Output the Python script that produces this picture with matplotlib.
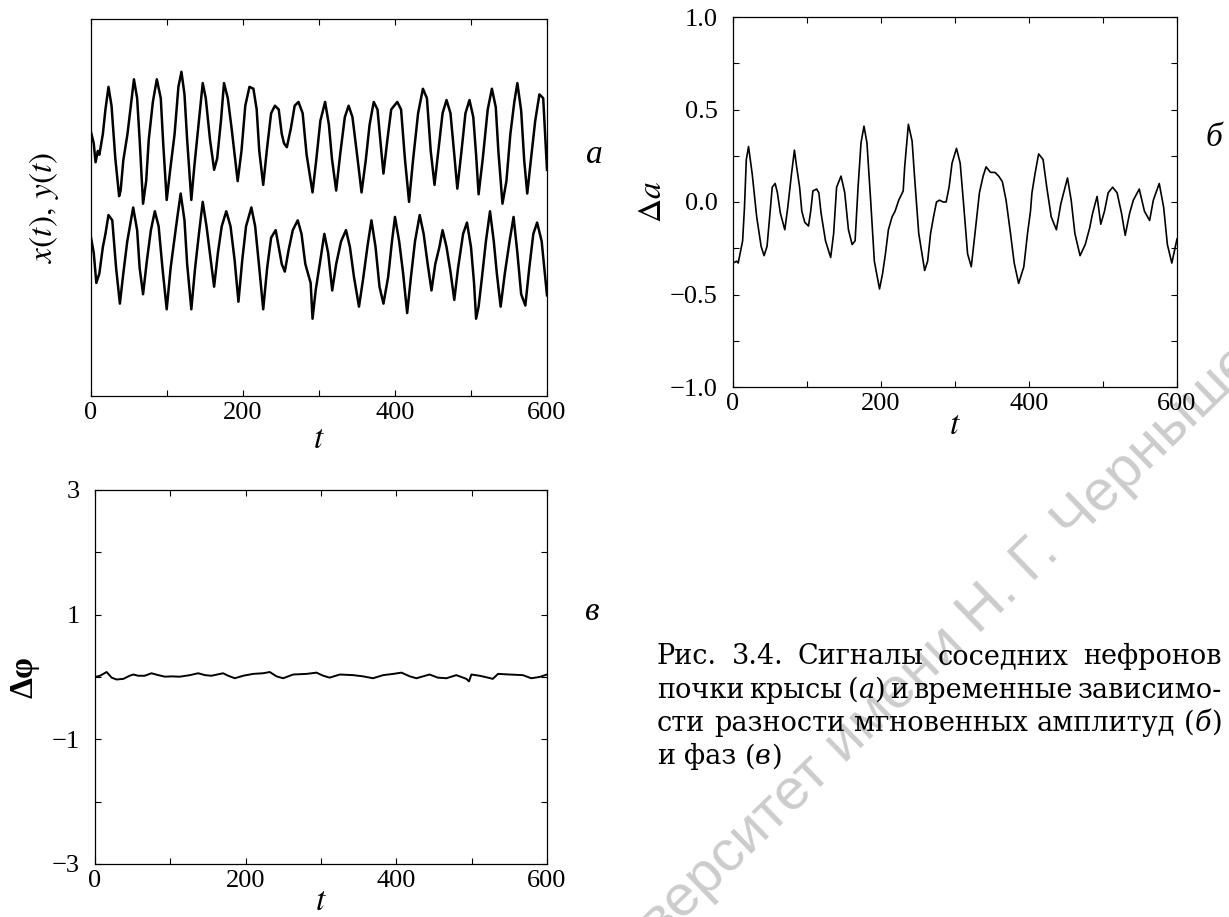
import math

import matplotlib
matplotlib.use("Agg")
import matplotlib.pyplot as plt

W, H = 1229, 917

plt.rcParams["font.family"] = ["Liberation Serif", "DejaVu Serif"]
plt.rcParams["mathtext.fontset"] = "stix"

# signals of two neighbouring nephrons (arbitrary units, 0..100 of the frame)
t_x = [0, 3.6, 6, 9, 11, 15.6, 19, 23, 27, 32,
       37, 39, 42.5, 48, 53, 56.5, 60.7, 64, 68.5, 72.6,
       76, 81.4, 86.6, 91.8, 95, 99.6, 104.8, 110, 115, 119,
       123, 126.5, 132, 136, 141, 147, 151, 156.6, 162, 166,
       171, 175, 180, 185, 189, 193, 198, 203, 208.5, 213.7,
       218, 221.4, 226.6, 231.8, 237, 242, 247, 251, 254, 257.7,
       263, 268, 273, 278.5, 283.7, 291.5, 296.6, 301.8, 308, 313,
       317, 322.6, 327.8, 334, 339, 344, 349.5, 356, 361.5, 366.6,
       372, 377, 380.6, 384.8, 390, 395, 403, 408, 413, 418.5,
       423.7, 430.4, 436.7, 442, 447, 452, 457, 462.6, 467.8, 473,
       478, 482, 487.5, 492.7, 498, 503, 506.7, 510, 515.5, 522,
       527.5, 532.6, 536, 541.4, 546.6, 551.8, 557, 561, 566, 570,
       574, 579, 584.5, 590, 595, 600]
x_sig = [70, 67, 62, 65, 64, 69.5, 76, 82, 77, 63,
         53, 54.5, 62.5, 69.5, 78, 84, 79, 68, 51, 57,
         68, 78, 84, 79, 67, 52, 61, 69.5, 82, 86,
         80, 68, 52, 61, 71, 83, 79, 68, 60, 63,
         73, 83, 79, 71, 64, 57, 65, 77, 82, 81.5,
         76, 65, 56, 66, 75, 77, 76, 69.5, 67, 66,
         71, 77, 78, 75, 64, 54, 63, 73, 78, 72,
         63, 54.5, 64, 74, 77, 74, 65, 54, 62.5, 72,
         78, 76, 68, 59, 68, 76, 78, 76, 63, 51.5,
         62.5, 75, 81.5, 79, 65, 56, 65, 75, 78.5, 75,
         64, 55, 65, 75, 78.5, 74, 64, 53.5, 63, 76,
         81.5, 76.6, 65, 51, 57, 69.5, 78, 83, 75.7, 62.5,
         53.7, 63, 73, 80, 79, 60]

t_y = [0, 3.6, 7, 11, 15.6, 19, 23, 28, 33, 38,
       42.5, 47.7, 55.5, 60.7, 64, 68.5, 73.6, 78.8, 84, 89,
       94, 99.6, 104.8, 110, 114, 118, 123, 126.5, 132, 137,
       142, 147, 152, 157.6, 162, 167, 172, 178, 183.6, 189,
       194, 199, 204, 211, 216, 221.4, 226.6, 231.8, 237, 243,
       247, 251, 255, 260, 265.5, 272, 277, 282, 289, 291.5,
       295.6, 301, 307, 312, 317.4, 322.6, 329, 335.5, 340.7, 346,
       352.6, 357.8, 364, 369, 374.4, 379.6, 384.8, 391, 396, 400,
       405.5, 410.7, 416, 421, 426.3, 432.5, 437.7, 443, 448, 453,
       458.4, 462.6, 467.8, 473, 478, 483, 489.6, 494.7, 500, 504,
       506.7, 510, 514.5, 519.6, 525, 530, 534, 539, 544.5, 550.7,
       556, 561, 566, 571.5, 576.7, 582, 587, 593, 600]
y_sig = [42, 38, 30, 32.5, 39.5, 43, 48, 46.6, 34, 24.5,
         32.5, 41, 50, 44, 34, 27, 36, 44, 49, 45,
         34, 23, 34, 42, 48, 53.7, 46.6, 35, 23, 34,
         43, 51.5, 45, 36, 29, 38, 45, 49, 45, 36,
         25, 36, 45, 50, 45, 34, 23, 34, 42, 44,
         39.5, 35, 33, 38.7, 44, 46.6, 43, 35, 30, 20.5,
         28, 35, 43, 38, 28, 35, 41, 44, 39.5, 31.6,
         23.7, 30.7, 40, 46.6, 39.5, 29, 24.5, 31.6, 41, 47.5,
         41, 32.5, 22, 31.6, 41, 48, 43, 35, 28, 35,
         39.5, 44, 39.5, 33, 25.5, 34, 43, 46, 39.5, 30,
         20.5, 23.7, 31.6, 41, 49, 41, 32.5, 23.7, 32.5, 41,
         47.5, 38, 27, 24, 34, 43, 46, 41, 26.7]

# difference of instantaneous amplitudes
t_da = [0, 5, 7, 13, 15.5, 18, 21, 26, 32, 38,
        42, 46, 50, 53, 57, 60, 64, 70, 74, 79,
        83, 86, 90, 93, 97, 102, 105, 108, 113, 116,
        119, 125, 132, 136, 140, 146, 151, 156, 161, 165,
        169, 173, 177, 181, 186, 191, 198, 202, 206, 210,
        215, 219, 224, 230, 232, 237, 242, 246, 251, 259,
        263, 267, 271, 275, 279, 284, 288, 292, 296, 302,
        307, 312, 317, 322, 327, 333, 338, 342, 348, 354,
        359, 364, 369, 375, 380, 386, 393, 398, 402, 404,
        408, 413, 419, 424, 430, 437, 443, 452, 457, 462,
        469, 476, 482, 486, 492, 497, 502, 507, 513, 519,
        525, 530, 536, 541, 549, 556, 563, 568, 576, 582,
        587, 593, 600]
da = [-0.33, -0.32, -0.33, -0.21, -0.03, 0.23, 0.30, 0.15, -0.08, -0.24,
      -0.29, -0.24, -0.06, 0.08, 0.10, 0.05, -0.06, -0.15, -0.03, 0.15,
      0.28, 0.19, 0.08, -0.05, -0.11, -0.13, -0.05, 0.06, 0.07, 0.05,
      -0.06, -0.21, -0.30, -0.17, 0.08, 0.14, 0.05, -0.15, -0.23, -0.21,
      0.08, 0.32, 0.41, 0.32, 0.01, -0.32, -0.47, -0.39, -0.28, -0.15,
      -0.08, -0.05, 0.01, 0.06, 0.19, 0.42, 0.33, 0.10, -0.17, -0.37,
      -0.32, -0.17, -0.08, 0.0, 0.01, 0.0, 0.0, 0.08, 0.21, 0.29,
      0.21, -0.03, -0.28, -0.35, -0.17, 0.05, 0.14, 0.19, 0.16, 0.16,
      0.14, 0.11, 0.01, -0.17, -0.33, -0.44, -0.35, -0.17, -0.05, 0.05,
      0.15, 0.26, 0.23, 0.08, -0.08, -0.15, -0.01, 0.13, 0.01, -0.17,
      -0.29, -0.23, -0.14, -0.06, 0.03, -0.12, -0.05, 0.05, 0.08, 0.05,
      -0.06, -0.18, -0.06, 0.01, 0.07, -0.05, -0.10, 0.01, 0.10, -0.03,
      -0.23, -0.33, -0.20]

# difference of instantaneous phases
t_dphi = [0, 6.6, 15.5, 22, 28.6, 37.6, 46, 50.8, 57.4, 66,
          75, 84, 93, 101.6, 112.7, 126, 137, 146, 154.6, 170,
          176.8, 185.6, 196.6, 210, 223, 232, 241, 249.7, 263, 281,
          294, 303, 311.6, 325, 342.6, 356, 369, 382.6, 396, 406.8,
          418, 426.7, 444, 455, 466.5, 479.6, 493, 496.5, 499.6, 510.6,
          521.6, 528, 535, 550, 568, 579, 590, 600]
dphi = [0.0, 0.02, 0.08, -0.01, -0.04, -0.03, 0.02, 0.04, 0.02, 0.02,
        0.06, 0.03, 0.005, 0.01, 0.005, 0.03, 0.06, 0.03, 0.02, 0.06,
        0.02, -0.02, 0.02, 0.05, 0.06, 0.08, 0.01, -0.02, 0.04, 0.05,
        0.07, 0.02, -0.01, 0.04, 0.03, 0.01, -0.02, 0.03, 0.05, 0.07,
        0.01, -0.02, 0.04, -0.01, -0.02, 0.03, -0.03, -0.07, 0.04, 0.02,
        -0.01, -0.03, 0.05, 0.04, 0.03, -0.02, 0.0, 0.04]

t_major = [0, 200, 400, 600]
t_minor = [100, 300, 500]
da_major = [-1.0, -0.5, 0.0, 0.5, 1.0]
da_labels = ["\u22121.0", "\u22120.5", "0.0", "0.5", "1.0"]
da_minor = [-0.75, -0.25, 0.25, 0.75]
dphi_major = [-3, -1, 1, 3]
dphi_labels = ["\u22123", "\u22121", "1", "3"]
dphi_minor = [-2, 0, 2]

caption = ["Рис. 3.4. Сигналы соседних нефронов",
           "почки крысы (*а*) и временные зависимо-",
           "сти разности мгновенных амплитуд (*б*)",
           "и фаз (*в*)"]
watermark = "Саратовский государственный университет имени Н. Г. Чернышевского"
watermark_head = "Саратовский государственный университет имени "


def px_axes(fig, left, top, right, bottom):
    """Add axes from pixel edges measured from the top-left corner."""
    return fig.add_axes([left / W, 1 - bottom / H, (right - left) / W, (bottom - top) / H])


def ftext(fig, x, y, s, **kw):
    return fig.text(x / W, 1 - y / H, s, **kw)


def style_axes(ax):
    ax.set_facecolor("none")
    ax.set_xlim(0, 600)
    ax.set_xticks(t_major)
    ax.set_xticks(t_minor, minor=True)
    ax.set_xticklabels([str(v) for v in t_major])
    for sp in ax.spines.values():
        sp.set_linewidth(0.9)
    ax.tick_params(which="both", direction="in", top=True, right=True,
                   length=4.5, width=0.8, labelsize=19)
    ax.tick_params(axis="x", pad=4)
    ax.tick_params(axis="y", pad=11)


fig = plt.figure(figsize=(W / 100, H / 100), dpi=100)

# (а) the two raw signals
ax_a = px_axes(fig, 91, 19, 547, 396)
style_axes(ax_a)
ax_a.set_ylim(0, 100)
ax_a.set_yticks([])
ax_a.plot(t_x, x_sig, color="black", lw=1.8)
ax_a.plot(t_y, y_sig, color="black", lw=1.8)

# (б) amplitude difference
ax_b = px_axes(fig, 733, 17, 1177, 387)
style_axes(ax_b)
ax_b.set_ylim(-1, 1)
ax_b.set_yticks(da_major)
ax_b.set_yticklabels(da_labels)
ax_b.set_yticks(da_minor, minor=True)
ax_b.plot(t_da, da, color="black", lw=1.2)

# (в) phase difference
ax_c = px_axes(fig, 95, 490, 547, 864)
style_axes(ax_c)
ax_c.set_ylim(-3, 3)
ax_c.set_yticks(dphi_major)
ax_c.set_yticklabels(dphi_labels)
ax_c.set_yticks(dphi_minor, minor=True)
ax_c.plot(t_dphi, dphi, color="black", lw=1.4)

# axis titles and panel letters
ftext(fig, 44, 207, r"$x(t),\, y(t)$", fontsize=24, rotation=90, ha="center", va="center")
ftext(fig, 319, 440, r"$t$", fontsize=24, ha="center", va="center")
ftext(fig, 653, 202, r"$\Delta a$", fontsize=24, rotation=90, ha="center", va="center")
ftext(fig, 955, 426, r"$t$", fontsize=24, ha="center", va="center")
ftext(fig, 24, 677, "Δφ", fontsize=24, fontweight="bold", rotation=90, ha="center", va="center")
ftext(fig, 321, 902, r"$t$", fontsize=24, ha="center", va="center")
ftext(fig, 594, 155, "а", fontsize=24, style="italic", ha="center", va="center")
ftext(fig, 1214, 138, "б", fontsize=24, style="italic", ha="center", va="center")
ftext(fig, 592, 612, "в", fontsize=24, style="italic", ha="center", va="center")

renderer = fig.canvas.get_renderer()


def text_width(s, **kw):
    t = fig.text(0, 0, s, **kw)
    w = t.get_window_extent(renderer).width
    t.remove()
    return w


# diagonal watermark, "Н." of the name sits at the anchor point
wm_kw = dict(fontsize=42, family="Liberation Sans")
angle = 44
head_w = text_width(watermark_head + "Н", **wm_kw) - text_width("Н", **wm_kw)
ax0, ay0 = 978, H - 635
sx = ax0 - head_w * math.cos(math.radians(angle))
sy = ay0 - head_w * math.sin(math.radians(angle))
fig.text(sx / W, sy / H, watermark, color="0.8", rotation=angle,
         rotation_mode="anchor", ha="left", va="baseline", zorder=-1, **wm_kw)

# justified caption; *...* marks italic letters
cap_kw = dict(fontsize=19.5, family="DejaVu Serif")
cap_left, cap_right = 657, 1222
space_w = text_width("a a", **cap_kw) - text_width("aa", **cap_kw)
for i, line in enumerate(caption):
    words = []
    for word in line.split(" "):
        parts = word.split("*")
        words.append([(p, k % 2 == 1) for k, p in enumerate(parts) if p])
    widths = [[text_width(s, style="italic" if it else "normal", **cap_kw)
               for s, it in w] for w in words]
    total = sum(sum(ws) for ws in widths)
    if i < len(caption) - 1:
        gap = (cap_right - cap_left - total) / (len(words) - 1)
    else:
        gap = space_w
    x = cap_left
    y = 664 + 33.5 * i
    for segs, ws in zip(words, widths):
        for (s, it), w in zip(segs, ws):
            ftext(fig, x, y, s, style="italic" if it else "normal",
                  ha="left", va="baseline", **cap_kw)
            x += w
        x += gap

fig.savefig("out.png", dpi=100)
